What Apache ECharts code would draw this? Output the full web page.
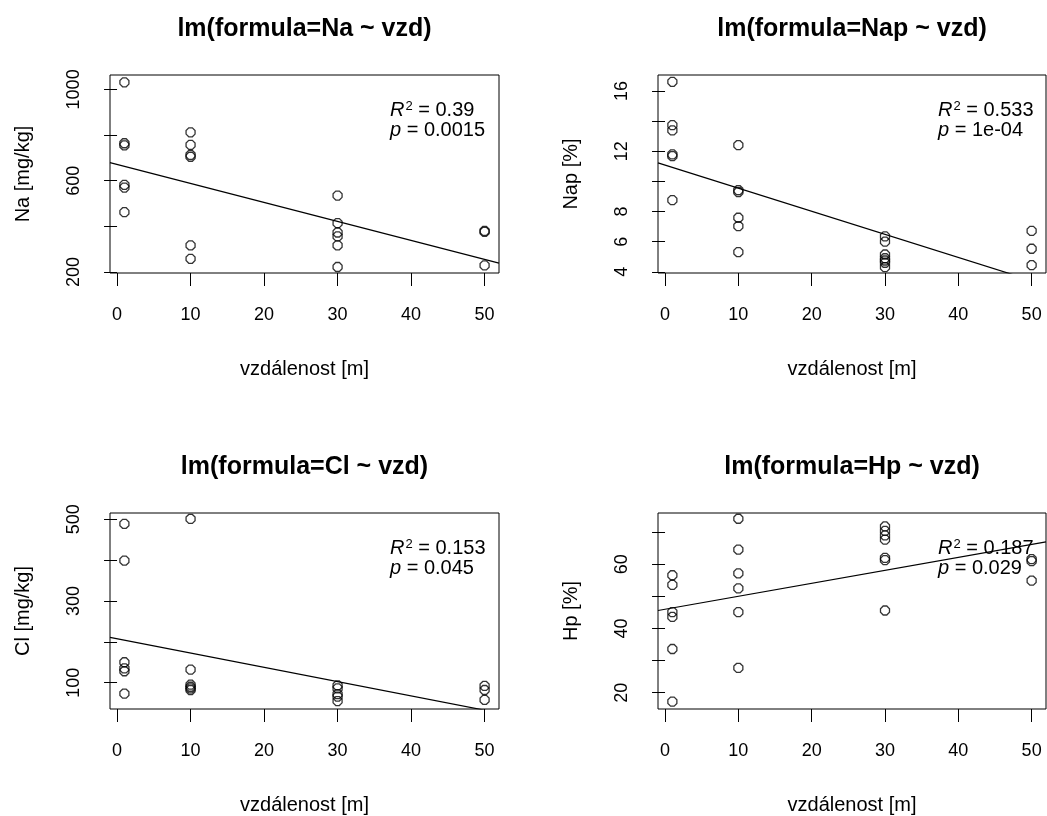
<!DOCTYPE html>
<html>
<head>
<meta charset="utf-8">
<script src="https://cdn.jsdelivr.net/npm/echarts@6/dist/echarts.min.js"></script>
<style>
html,body{margin:0;padding:0;background:#fff;}
#c{width:1047px;height:816px;}
</style>
</head>
<body>
<div id="c"></div>
<script>
// ---- data ----
const distNa = [1,1,1,1,1,1, 10,10,10,10,10,10, 30,30,30,30,30,30, 50,50,50];
const naVals = [1031,764,755,582,570,462, 812,757,713,705,317,258, 535,414,373,356,317,222, 380,376,229];

const distNap = [1,1,1,1,1,1, 10,10,10,10,10,10, 30,30,30,30,30,30,30, 50,50,50];
const napVals = [16.62,13.74,13.39,11.8,11.68,8.76, 12.41,9.42,9.3,7.59,7.03,5.31, 6.35,6.0,5.15,4.9,4.75,4.6,4.31, 6.72,5.53,4.44];

const distCl = [1,1,1,1,1,1, 10,10,10,10,10,10, 30,30,30,30,30, 50,50,50];
const clVals = [489,399,150,135,128,73, 501,132,95,90,86,82, 93,86,72,66,55, 92,82,58];

const distHp = [1,1,1,1,1,1, 10,10,10,10,10,10, 30,30,30,30,30,30,30, 50,50,50];
const hpVals = [56.6,53.6,45.1,43.6,33.6,17.2, 74.2,64.6,57.2,52.5,45.1,27.7, 71.8,70.4,69.0,67.7,62.0,61.3,45.6, 61.6,61.0,54.9];

// fitted lines (intercept, slope) as drawn in the picture
const fitIntercept = [671, 11.09, 207.6, 46.0];
const fitSlope = [-8.31, -0.1534, -3.50, 0.404];

const titles = ['lm(formula=Na ~ vzd)', 'lm(formula=Nap ~ vzd)', 'lm(formula=Cl ~ vzd)', 'lm(formula=Hp ~ vzd)'];
const yNames = ['Na [mg/kg]', 'Nap [%]', 'Cl [mg/kg]', 'Hp [%]'];
const xName = 'vzdálenost [m]';
const r2Text = ['0.39', '0.533', '0.153', '0.187'];
const pText = ['0.0015', '1e-04', '0.045', '0.029'];

const xTicks = [0, 10, 20, 30, 40, 50];
const yTicks = [[200,400,600,800,1000],[4,6,8,10,12,14,16],[100,200,300,400,500],[20,30,40,50,60,70]];
const yLabels = [[200,600,1000],[4,6,8,12,16],[100,300,500],[20,40,60]];
const yRange = [[195.7,1063],[3.92,17.07],[35.5,515.5],[14.9,76.0]];
const xRange = [-0.96, 51.96];

// ---- layout ----
const FONT = 'Liberation Sans, Arial, sans-serif';
const grids = [
  {left:110, top:75, width:389, height:198},
  {left:658, top:75, width:388, height:198},
  {left:110, top:513, width:389, height:198.5},
  {left:658, top:513, width:388, height:198.5}
];
const xs = [distNa, distNap, distCl, distHp];
const ys = [naVals, napVals, clVals, hpVals];

const symbolPath = 'path://M3,0 L7,0 L10,3 L10,7 L7,10 L3,10 L0,7 L0,3 Z';

const option = {
  animation: false,
  backgroundColor: '#fff',
  textStyle: {fontFamily: FONT, color:'#000'},
  title: [],
  grid: [],
  xAxis: [],
  yAxis: [],
  series: []
};

const plain = v => String(v);

for (let i = 0; i < 4; i++) {
  const g = grids[i];
  option.grid.push(Object.assign({show:true, borderColor:'#000', borderWidth:1, backgroundColor:'transparent', containLabel:false}, g));
  option.title.push({
    text: titles[i], left: g.left + g.width/2, top: g.top - 58, textAlign: 'center', padding: 0,
    textStyle: {fontFamily: FONT, fontSize: 25, fontWeight: 'bold', color: '#000'}
  });
  option.title.push({
    text: '{i|R}{s|2}{n| = ' + r2Text[i] + '}\n{i|p}{n| = ' + pText[i] + '}',
    left: g.left + 280, top: g.top + 25, padding: 0,
    textStyle: {
      fontFamily: FONT, fontSize: 20, fontWeight: 'normal', color:'#000',
      rich: {
        i: {fontFamily: FONT, fontSize: 20, fontStyle: 'italic', fontWeight: 'normal', color:'#000', lineHeight: 20},
        s: {fontFamily: FONT, fontSize: 13, fontWeight: 'normal', color:'#000', verticalAlign:'top', lineHeight: 10, padding:[0,0,0,1]},
        n: {fontFamily: FONT, fontSize: 20, fontWeight: 'normal', color:'#000', lineHeight: 20}
      }
    }
  });
  option.xAxis.push({
    gridIndex: i, type: 'value', min: xRange[0], max: xRange[1],
    axisLine: {show: false},
    axisTick: {show: true, length: 13, customValues: xTicks, lineStyle: {color:'#000', width:1}},
    axisLabel: {customValues: xTicks, formatter: plain, fontFamily: FONT, fontSize: 18, color:'#000', margin: 33},
    splitLine: {show: false},
    name: xName, nameLocation: 'middle', nameGap: 86,
    nameTextStyle: {fontFamily: FONT, fontSize: 20, color:'#000'}
  });
  option.yAxis.push({
    gridIndex: i, type: 'value', min: yRange[i][0], max: yRange[i][1],
    axisLine: {show: false},
    axisTick: {show: true, length: 13, customValues: yTicks[i], lineStyle: {color:'#000', width:1}},
    axisLabel: {customValues: yLabels[i], formatter: plain, rotate: 90, fontFamily: FONT, fontSize: 18, color:'#000', margin: 27},
    splitLine: {show: false},
    name: yNames[i], nameLocation: 'middle', nameGap: 77, nameRotate: 90,
    nameTextStyle: {fontFamily: FONT, fontSize: 20, color:'#000'}
  });
  const pts = xs[i].map((x, k) => [x, ys[i][k]]);
  option.series.push({
    type: 'scatter', xAxisIndex: i, yAxisIndex: i, data: pts,
    symbol: symbolPath, symbolSize: 9,
    itemStyle: {color: 'rgba(0,0,0,0)', borderColor: '#000', borderWidth: 1.3},
    silent: true
  });
  const a = fitIntercept[i], b = fitSlope[i];
  option.series.push({
    type: 'line', xAxisIndex: i, yAxisIndex: i, clip: true,
    data: [[xRange[0], a + b*xRange[0]], [xRange[1], a + b*xRange[1]]],
    symbol: 'none', lineStyle: {color:'#000', width: 1.2}, silent: true
  });
}

const chart = echarts.init(document.getElementById('c'), null, {renderer: 'canvas'});
chart.setOption(option);
</script>
</body>
</html>
